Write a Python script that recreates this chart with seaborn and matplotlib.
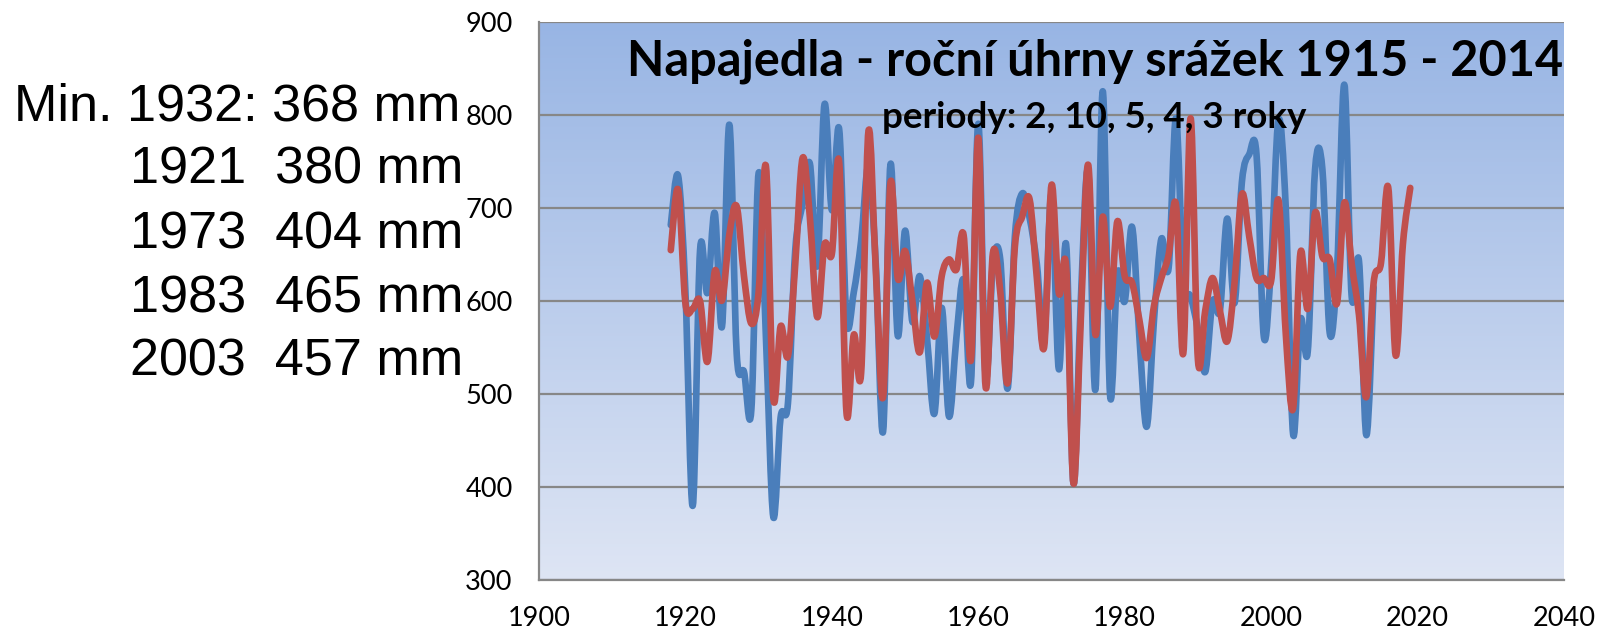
import numpy as np
import pandas as pd
import matplotlib
matplotlib.use("Agg")
import matplotlib.pyplot as plt
from matplotlib.path import Path
from matplotlib.patches import PathPatch
import seaborn as sns

# Annual precipitation totals (mm), measured series
years_measured = list(range(1918, 2015))
precip_measured = [
    682, 735, 610, 380, 655, 609, 695, 573, 790, 544,
    524, 483, 738, 560, 368, 475, 490, 655, 705, 748,
    638, 812, 698, 785, 580, 610, 665, 745, 640, 460,
    747, 563, 676, 578, 627, 560, 479, 593, 476, 560,
    623, 513, 791, 520, 640, 645, 506, 670, 716, 690,
    640, 560, 715, 527, 661, 404, 600, 740, 505, 826,
    499, 630, 600, 680, 562, 465, 580, 667, 636, 797,
    625, 605, 570, 524, 600, 590, 689, 598, 728, 758,
    758, 562, 640, 795, 700, 457, 580, 546, 742, 742,
    566, 634, 833, 605, 643, 456, 615,
]

# Periodic model (periods 2, 10, 5, 4, 3 years)
years_model = list(range(1918, 2020))
precip_model = [
    655, 720, 598, 592, 600, 535, 632, 601, 672, 702,
    627, 576, 610, 745, 496, 573, 541, 640, 754, 690,
    583, 661, 651, 749, 480, 564, 523, 783, 634, 497,
    727, 625, 654, 600, 545, 620, 562, 627, 645, 634,
    671, 537, 776, 508, 652, 610, 512, 659, 691, 710,
    625, 551, 725, 609, 637, 404, 580, 747, 564, 691,
    594, 686, 627, 620, 580, 539, 595, 625, 650, 704,
    544, 797, 537, 590, 625, 590, 557, 620, 715, 670,
    625, 625, 622, 709, 565, 485, 652, 592, 695, 648,
    645, 598, 706, 640, 585, 497, 620, 641, 722, 542,
    662, 722,
]

x_ticks = list(range(1900, 2041, 20))
y_ticks = list(range(300, 901, 100))

min_lines = [
    "Min. 1932: 368 mm",
    "1921  380 mm",
    "1973  404 mm",
    "1983  465 mm",
    "2003  457 mm",
]

title = "Napajedla - roční úhrny srážek 1915 - 2014"
subtitle = "periody: 2, 10, 5, 4, 3 roky"


def smooth_path(xy):
    """Bezier path through the points with spreadsheet-style smoothing."""
    p = np.asarray(xy, dtype=float)
    ext = np.vstack([p[0], p, p[-1]])
    verts = [p[0]]
    codes = [Path.MOVETO]
    for i in range(len(p) - 1):
        p0, p1, p2, p3 = ext[i], ext[i + 1], ext[i + 2], ext[i + 3]
        c1 = p1 + (p2 - p0) / 6.0
        c2 = p2 - (p3 - p1) / 6.0
        verts += [c1, c2, p2]
        codes += [Path.CURVE4] * 3
    return Path(verts, codes)


sns.set_theme(style="white")
plt.rcParams["font.family"] = ["Lato", "DejaVu Sans"]

fig = plt.figure(figsize=(16, 6.29), dpi=100)
ax = fig.add_axes([539 / 1600, 1 - 580 / 629, (1564 - 539) / 1600, (580 - 22.5) / 629])

# vertical gradient background of the plot area
top = np.array([152, 181, 228]) / 255
bottom = np.array([222, 229, 244]) / 255
t = np.linspace(0, 1, 256)[:, None]
grad = (top[None, :] * (1 - t) + bottom[None, :] * t)[:, None, :]
ax.imshow(grad, extent=[1900, 2040, 300, 900], aspect="auto", zorder=0,
          interpolation="bicubic")

df = pd.concat([
    pd.DataFrame({"rok": years_measured, "srazky": precip_measured, "rada": "mereni"}),
    pd.DataFrame({"rok": years_model, "srazky": precip_model, "rada": "model"}),
])
palette = {"mereni": "#4A7EBB", "model": "#C0504D"}
sns.lineplot(data=df, x="rok", y="srazky", hue="rada", palette=palette,
             linewidth=4.8, estimator=None, legend=False, ax=ax, zorder=3)

# replace the straight segments with smoothed curves through the same points
for k, ln in enumerate(list(ax.get_lines())):
    xy = ln.get_xydata()
    patch = PathPatch(smooth_path(xy), facecolor="none", edgecolor=ln.get_color(),
                      linewidth=4.8, capstyle="round", joinstyle="round",
                      zorder=3 + k, transform=ax.transData)
    ax.add_patch(patch)
    ln.remove()

ax.set_xlim(1900, 2040)
ax.set_ylim(300, 900)
ax.set_xticks(x_ticks)
ax.set_yticks(y_ticks)
ax.set_xlabel("")
ax.set_ylabel("")
ax.grid(axis="y", color="#878787", linewidth=1.6, zorder=1)
ax.grid(axis="x", visible=False)
ax.set_axisbelow(True)
for side in ["top", "right"]:
    ax.spines[side].set_visible(False)
for side in ["left", "bottom"]:
    ax.spines[side].set_color("#878787")
    ax.spines[side].set_linewidth(1.6)
ax.tick_params(axis="both", direction="out", length=7, width=1.6, color="#878787",
               labelsize=19.5, labelcolor="black")
ax.tick_params(axis="y", pad=12)
ax.tick_params(axis="x", pad=19, length=0)

fig.text(1095 / 1600, 1 - 61 / 629, title, ha="center", va="center",
         fontsize=35, fontweight="bold", color="black")
fig.text(1094 / 1600, 1 - 117 / 629, subtitle, ha="center", va="center",
         fontsize=26.5, fontweight="bold", color="black")

left_x = [14, 130, 130, 130, 130]
line_y = [107, 170, 235, 299, 362]
for txt, lx, ly in zip(min_lines, left_x, line_y):
    fig.text(lx / 1600, 1 - ly / 629, txt, ha="left", va="center",
             fontsize=37.5, family=["Liberation Sans", "DejaVu Sans"], color="black")

fig.savefig("out.png", dpi=100)
